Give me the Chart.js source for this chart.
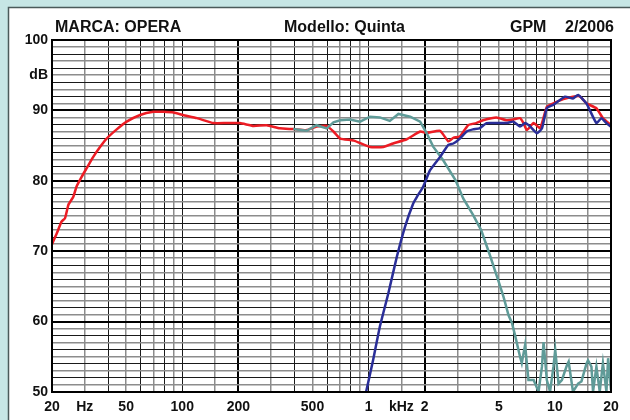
<!DOCTYPE html>
<html><head><meta charset="utf-8">
<script src="https://cdn.jsdelivr.net/npm/chart.js@4"></script>
<style>html,body{margin:0;padding:0;background:#fff}canvas{display:block}</style>
</head><body>
<canvas id="c" width="630" height="420" style="width:630px;height:420px"></canvas>
<script>
// ---- data ----
const xGridValues = [20,30,40,50,60,70,80,90,100,150,200,300,400,500,600,700,800,900,1000,1500,2000,3000,4000,5000,6000,7000,8000,9000,10000,15000,20000];
const xTickLabels = {20:'20',30:'Hz',50:'50',100:'100',200:'200',500:'500',1000:'1',1500:'kHz',2000:'2',5000:'5',10000:'10',20000:'20'};
const yTickLabels = {100:'100',95:'dB',90:'90',80:'80',70:'70',60:'60',50:'50'};

const redFreq = [20,21.2,22.5,23.5,24.5,26,27.1,28.9,30.7,33.3,36.2,39.3,44.5,50.3,59.4,70,79,90,101,120,147,173,204,241,284,334,394,465,526,596,648,704,834,1018,1200,1354,1602,1892,2052,2420,2680,2850,3090,3420,3780,4110,4850,5490,5980,6500,6780,7070,7690,8340,9050,9820,11100,12500,13600,14760,16700,18100,20000];
const redDb   = [71.0,72.5,74.2,74.7,76.6,77.7,79.2,80.6,81.8,83.4,84.8,86.0,87.3,88.4,89.35,89.8,89.8,89.7,89.35,88.9,88.2,88.2,88.2,87.8,87.9,87.45,87.35,87.2,87.7,87.8,87.0,86.0,85.7,84.8,84.8,85.3,85.9,87.0,86.8,87.1,85.6,86.1,86.3,87.9,88.2,88.6,89.0,88.6,88.7,88.9,88.2,87.2,88.2,87.5,90.5,91.0,91.6,91.95,92.0,91.0,90.3,88.9,87.9];

const wooferFreq = [394,465,526,596,648,704,796,900,1018,1150,1300,1446,1672,1892,2052,2222,2510,2926,3220,3630,4020,4470,4960,5300,5640,5880,6130,6500,6640,6920,7210,7690,8170,8520,8690,9050,9420,9820,10040,10460,10900,11600,11850,12500,13320,13880,14760,15050,15700,16020,16700,17400,18100,18900,19300,20000];
const wooferDb   = [87.35,87.1,87.9,87.45,88.3,88.6,88.7,88.4,89.1,89.0,88.5,89.5,89.1,88.4,86.75,84.85,82.95,80.1,77.5,75.2,73.0,69.5,65.9,63.5,60.9,59.8,57.9,55.0,54.1,56.7,51.7,51.7,50.05,53.6,57.1,51.7,50.05,53.6,56.0,51.2,51.7,53.8,54.3,50.05,51.2,51.5,54.0,54.5,53.6,50.05,53.6,50.05,54.1,50.05,54.8,50.3];

const tweeterFreq = [960,1057,1150,1276,1418,1570,1738,1816,1966,2138,2420,2680,2850,3090,3360,3630,3940,4300,4850,5490,5980,6500,6920,7380,8020,8520,9050,9820,11320,12500,13320,14760,16700,17780,18900,20000];
const tweeterDb   = [49.5,54.5,59.3,64.0,69.2,73.5,76.8,77.7,79.2,81.5,83.4,85.1,85.3,86.0,87.0,87.3,87.45,88.2,88.2,88.2,88.4,87.7,88.2,87.7,86.75,87.45,90.3,90.8,91.95,91.7,92.2,91.0,88.2,88.9,88.2,87.7];

// ---- helpers ----
const pts = (fs, ds) => fs.map((f, i) => ({x: f, y: ds[i]}));
const FONT = 'Liberation Sans, Arial, Helvetica, sans-serif';

function xStyle(v) {
  if ([20,200,2000,20000].includes(v)) return {c:'#000', w:2};
  const m = Math.round(v / Math.pow(10, Math.floor(Math.log10(v) + 1e-9)) * 10) / 10;
  if ([1,2,4,6,8].includes(m)) return {c:'#1a1a1a', w:1};
  return {c:'#8c8c8c', w:1.5};
}
function yStyle(v) {
  if (v % 10 === 0) return {c:'#000', w:2};
  if (v % 2 === 0) return {c:'#1a1a1a', w:1};
  return {c:'#8c8c8c', w:1.5};
}

const framePlugin = {
  id: 'frame',
  beforeDraw(chart) {
    const ctx = chart.ctx;
    ctx.save();
    ctx.fillStyle = '#c6e6e5';
    ctx.fillRect(0, 0, 630, 420);
    ctx.fillStyle = '#ffffff';
    ctx.fillRect(8, 7, 622, 413);
    ctx.strokeStyle = '#4a5a5a';
    ctx.lineWidth = 1.5;
    ctx.beginPath();
    ctx.moveTo(8.5, 420); ctx.lineTo(8.5, 7.5); ctx.lineTo(630, 7.5);
    ctx.stroke();
    ctx.restore();
  },
  afterDraw(chart) {
    const ctx = chart.ctx, a = chart.chartArea;
    ctx.save();
    ctx.strokeStyle = '#000';
    ctx.lineWidth = 2;
    ctx.strokeRect(a.left, a.top, a.right - a.left, a.bottom - a.top);
    ctx.fillStyle = '#111';
    ctx.font = 'bold 16px ' + FONT;
    ctx.textBaseline = 'alphabetic';
    ctx.textAlign = 'left';
    ctx.fillText('MARCA: OPERA', 55, 32);
    ctx.fillText('Modello: Quinta', 284, 32);
    ctx.fillText('GPM', 510, 32);
    ctx.textAlign = 'right';
    ctx.fillText('2/2006', 614, 32);
    ctx.restore();
  }
};

new Chart(document.getElementById('c'), {
  type: 'scatter',
  data: {
    datasets: [
      {label: 'Sistema', data: pts(redFreq, redDb), showLine: true, borderColor: '#ec1c24', borderWidth: 2.5, pointRadius: 0, tension: 0.15, order: 3},
      {label: 'Woofer', data: pts(wooferFreq, wooferDb), showLine: true, borderColor: '#5f9b98', borderWidth: 2.5, pointRadius: 0, tension: 0, order: 2},
      {label: 'Tweeter', data: pts(tweeterFreq, tweeterDb), showLine: true, borderColor: '#2a2e98', borderWidth: 2.5, pointRadius: 0, tension: 0.15, order: 1}
    ]
  },
  options: {
    responsive: false,
    animation: false,
    devicePixelRatio: 1,
    layout: {padding: {top: 40, right: 19, left: 0, bottom: 0}},
    plugins: {legend: {display: false}, tooltip: {enabled: false}, title: {display: false}},
    scales: {
      x: {
        type: 'logarithmic', min: 20, max: 20000, position: 'bottom',
        afterBuildTicks: s => { s.ticks = xGridValues.map(v => ({value: v})); },
        afterFit: s => { s.height = 28; },
        ticks: {
          autoSkip: false, maxRotation: 0, minRotation: 0, padding: 7, color: '#111',
          font: {family: FONT, size: 14, weight: 'bold'},
          callback: v => (xTickLabels[v] !== undefined ? xTickLabels[v] : '')
        },
        grid: {
          drawTicks: false,
          color: c => xStyle(c.tick.value).c,
          lineWidth: c => xStyle(c.tick.value).w
        },
        border: {display: true, color: '#000', width: 2}
      },
      y: {
        type: 'linear', min: 50, max: 100,
        afterBuildTicks: s => { const t = []; for (let v = 50; v <= 100; v++) t.push({value: v}); s.ticks = t; },
        afterFit: s => { s.width = 52; },
        ticks: {
          autoSkip: false, padding: 4, color: '#111',
          font: {family: FONT, size: 14, weight: 'bold'},
          callback: v => (yTickLabels[v] !== undefined ? yTickLabels[v] : '')
        },
        grid: {
          drawTicks: false,
          color: c => yStyle(c.tick.value).c,
          lineWidth: c => yStyle(c.tick.value).w
        },
        border: {display: true, color: '#000', width: 2}
      }
    }
  },
  plugins: [framePlugin]
});
</script>
</body></html>
